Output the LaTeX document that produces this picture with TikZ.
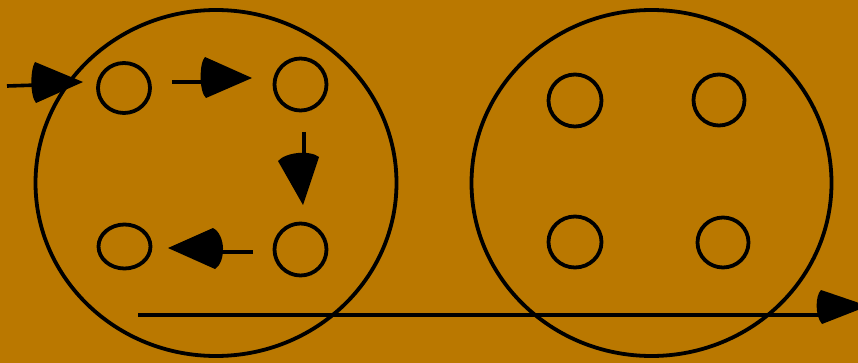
\documentclass[tikz,border=0pt]{standalone}
\usetikzlibrary{shapes.geometric}
\definecolor{bg}{RGB}{186,120,0}
\tikzset{
  ring/.style={draw=black, line width=3.8pt, ellipse, inner sep=0pt},
  shaft/.style={draw=black, line width=3.6pt},
  head/.style={fill=black}
}
\begin{document}
\begin{tikzpicture}[x=1pt,y=-1pt]
\fill[bg] (0,0) rectangle (858,363);
\useasboundingbox (0,0) rectangle (858,363);
% big circles
\node[ring, minimum width=361pt, minimum height=346pt] (L) at (216,183) {};
\node[ring, minimum width=360pt, minimum height=346pt] (R) at (651.5,183) {};
% small circles left
\node[ring, minimum width=52pt, minimum height=50pt] (s1) at (124,88) {};
\node[ring, minimum width=52pt, minimum height=52pt] (s2) at (300.5,84.5) {};
\node[ring, minimum width=52pt, minimum height=44pt] (s3) at (124.5,246.5) {};
\node[ring, minimum width=52pt, minimum height=52pt] (s4) at (300.5,249.5) {};
% small circles right
\node[ring, minimum width=53pt, minimum height=52pt] (r1) at (575,100.5) {};
\node[ring, minimum width=51pt, minimum height=51pt] (r2) at (719,100) {};
\node[ring, minimum width=53pt, minimum height=51pt] (r3) at (575,242) {};
\node[ring, minimum width=51pt, minimum height=50pt] (r4) at (723,242.5) {};
% arrow 1
\coordinate (a1s) at (7,86);
\coordinate (a1e) at (38,85);
\draw[shaft] (a1s) -- (a1e);
\fill[head] (35,62) -- (83,82) -- (36,103) .. controls (30,96) and (30,70) .. (35,62) -- cycle;
% arrow 2
\coordinate (a2s) at (172,82);
\coordinate (a2e) at (203,82);
\draw[shaft] (a2s) -- (a2e);
\fill[head] (205,57) -- (252,78) -- (206,98) .. controls (199,92) and (199,63) .. (205,57) -- cycle;
% arrow 3
\coordinate (a3s) at (304,132);
\coordinate (a3e) at (304,156);
\draw[shaft] (a3s) -- (a3e);
\fill[head] (278,161) .. controls (286,152) and (310,150) .. (319,157) -- (303,205) -- cycle;
% arrow 4
\coordinate (a4s) at (253,252);
\coordinate (a4e) at (220,252);
\draw[shaft] (a4s) -- (a4e);
\fill[head] (168,248) -- (213,228) .. controls (226,235) and (226,262) .. (215,269) -- cycle;
% arrow 5
\coordinate (a5s) at (138,315);
\coordinate (a5e) at (822,315);
\draw[shaft] (a5s) -- (a5e);
\fill[head] (821,290) -- (868,306) -- (822,324) .. controls (815,316) and (815,296) .. (821,290) -- cycle;
\end{tikzpicture}
\end{document}
